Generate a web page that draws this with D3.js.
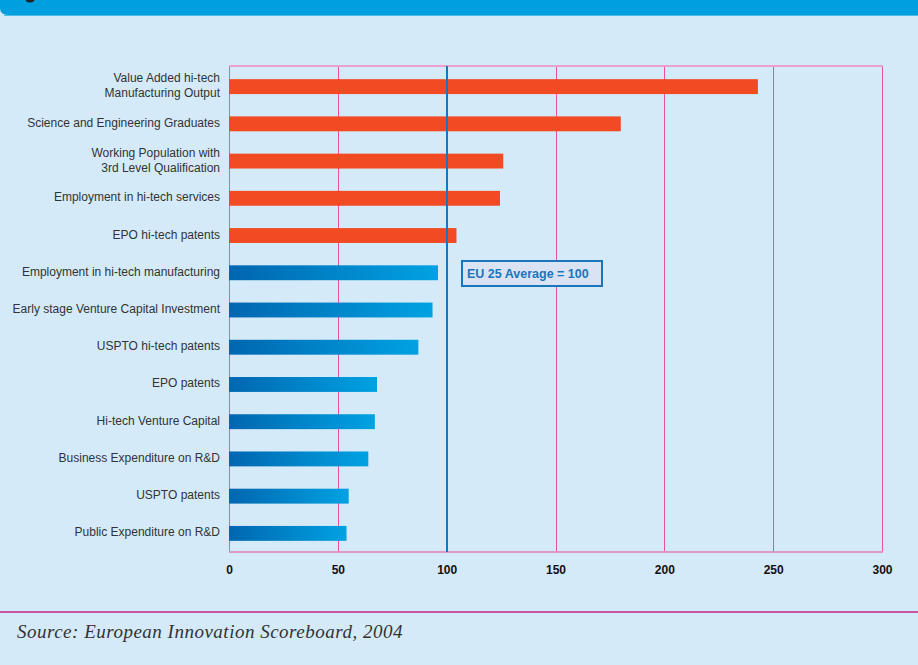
<!DOCTYPE html>
<html>
<head>
<meta charset="utf-8">
<script src="https://cdn.jsdelivr.net/npm/d3@7"></script>
<style>
  body { margin: 0; background: #d4eaf8; }
  svg { display: block; }
</style>
</head>
<body>
<script>
// categories, top to bottom
const categories = [
    ['Value Added hi-tech', 'Manufacturing Output'],
    ['Science and Engineering Graduates'],
    ['Working Population with', '3rd Level Qualification'],
    ['Employment in hi-tech services'],
    ['EPO hi-tech patents'],
    ['Employment in hi-tech manufacturing'],
    ['Early stage Venture Capital Investment'],
    ['USPTO hi-tech patents'],
    ['EPO patents'],
    ['Hi-tech Venture Capital'],
    ['Business Expenditure on R&D'],
    ['USPTO patents'],
    ['Public Expenditure on R&D']
];
// index values, EU 25 = 100
const values = [243, 180, 126, 124.5, 104.5, 96, 93.5, 87, 68, 67, 64, 55, 54];
const xTicks = [0, 50, 100, 150, 200, 250, 300];
const average = 100;
const sourceText = 'Source: European Innovation Scoreboard, 2004';

const width = 918, height = 665;
const plotLeft = 229, plotRight = 882, plotTop = 66, plotBottom = 552;

let svg = d3.select('body').append('svg')
    .attr('width', width)
    .attr('height', height);

svg.append('rect')
    .attr('width', width).attr('height', height)
    .attr('fill', '#d4eaf8');

// header band
svg.append('path')
    .attr('d', 'M0,-5 H918 V15 H8 Q0,15 0,8 Z')
    .attr('fill', '#009fdf');
svg.append('line')
    .attr('x1', 4).attr('x2', 918).attr('y1', 15.5).attr('y2', 15.5)
    .attr('stroke', '#4fbbe9').attr('stroke-width', 1);
svg.append('ellipse')
    .attr('cx', 30).attr('cy', -1).attr('rx', 4.5).attr('ry', 3.5)
    .attr('fill', '#222');

let x = d3.scaleLinear().domain([0, 300]).range([plotLeft, plotRight]);
let y = d3.scaleBand()
    .domain(d3.range(categories.length))
    .range([68, plotBottom])
    .paddingInner(0.6)
    .paddingOuter(0.3);

// gradient for the blue bars
let defs = svg.append('defs');
let grad = defs.append('linearGradient').attr('id', 'blueGrad')
    .attr('x1', '0%').attr('x2', '100%').attr('y1', '0%').attr('y2', '0%');
grad.append('stop').attr('offset', '0%').attr('stop-color', '#0066b0');
grad.append('stop').attr('offset', '100%').attr('stop-color', '#00a2e2');

// grid
svg.selectAll('.grid')
    .data(xTicks.filter(d => d !== 0 && d !== average))
    .enter().append('line')
    .attr('x1', d => Math.round(x(d)) + 0.5).attr('x2', d => Math.round(x(d)) + 0.5)
    .attr('y1', plotTop).attr('y2', plotBottom)
    .attr('stroke', '#ec4f9c')
    .attr('stroke-width', 1);
svg.append('line')
    .attr('x1', x(0) + 0.5).attr('x2', x(0) + 0.5).attr('y1', plotTop).attr('y2', plotBottom)
    .attr('stroke', '#ec5ca3').attr('stroke-width', 1);

// bars
svg.selectAll('.bar')
    .data(values)
    .enter().append('rect')
    .attr('x', x(0))
    .attr('y', (d, i) => y(i))
    .attr('width', d => x(d) - x(0))
    .attr('height', y.bandwidth())
    .attr('fill', d => d > average ? '#f24b23' : 'url(#blueGrad)');

// frame top and bottom
svg.append('line')
    .attr('x1', x(0)).attr('x2', x(300) + 1).attr('y1', plotTop).attr('y2', plotTop)
    .attr('stroke', '#e9a0cf').attr('stroke-width', 2);
svg.append('line')
    .attr('x1', x(0)).attr('x2', x(300) + 1).attr('y1', plotBottom).attr('y2', plotBottom)
    .attr('stroke', '#e397c8').attr('stroke-width', 2);

// average line
svg.append('line')
    .attr('x1', Math.round(x(average))).attr('x2', Math.round(x(average)))
    .attr('y1', plotTop).attr('y2', plotBottom)
    .attr('stroke', '#1a75bb').attr('stroke-width', 2);

// category labels
let labels = svg.selectAll('.label')
    .data(categories)
    .enter().append('text')
    .attr('text-anchor', 'end')
    .attr('font-family', 'Liberation Sans Narrow, Liberation Sans, Arial, sans-serif')
    .attr('font-size', 12)
    .attr('fill', '#333');
labels.each(function(lines, i) {
    let cy = y(i) + y.bandwidth() / 2;
    let t = d3.select(this);
    lines.forEach((ln, k) => {
        t.append('tspan')
            .attr('x', 220)
            .attr('y', cy + 3 + (k - (lines.length - 1) / 2) * 15)
            .text(ln);
    });
});

// x axis labels
let xAxis = d3.axisBottom(x).tickValues(xTicks).tickSize(0).tickPadding(12);
let gx = svg.append('g').attr('transform', `translate(0,${plotBottom + 1})`).call(xAxis);
gx.select('.domain').remove();
gx.selectAll('text')
    .attr('font-family', 'Liberation Sans Narrow, Liberation Sans, Arial, sans-serif')
    .attr('font-size', 12)
    .attr('font-weight', 'bold')
    .attr('fill', '#111');

// legend box
svg.append('rect')
    .attr('x', 462).attr('y', 261).attr('width', 140).attr('height', 25)
    .attr('fill', '#d9e3f3').attr('stroke', '#1a75bb').attr('stroke-width', 2);
svg.append('text')
    .attr('x', 467).attr('y', 278)
    .attr('font-family', 'Liberation Sans, Arial, sans-serif')
    .attr('font-size', 12.5)
    .attr('font-weight', 'bold')
    .attr('fill', '#1a75bb')
    .text('EU 25 Average = ' + average);

// separator and source
svg.append('line')
    .attr('x1', 0).attr('x2', width).attr('y1', 612).attr('y2', 612)
    .attr('stroke', '#c955a8').attr('stroke-width', 2);
svg.append('text')
    .attr('x', 17).attr('y', 638)
    .attr('font-family', 'Liberation Serif, serif')
    .attr('font-style', 'italic')
    .attr('font-size', 19)
    .attr('letter-spacing', 0.5)
    .attr('fill', '#333')
    .text(sourceText);
</script>
</body>
</html>
